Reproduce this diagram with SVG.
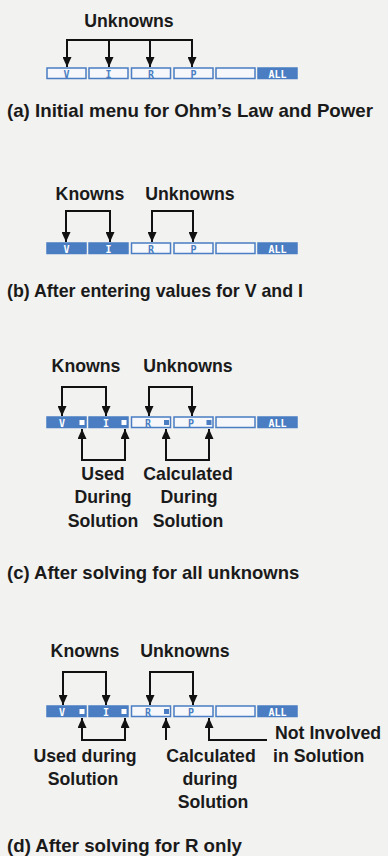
<svg xmlns="http://www.w3.org/2000/svg" width="388" height="856" viewBox="0 0 388 856">
<defs>
<marker id="ah" viewBox="0 0 10 9" markerUnits="userSpaceOnUse" markerWidth="11" markerHeight="9" refX="10" refY="4.5" orient="auto-start-reverse">
<path d="M0,0 L10,4.5 L0,9 z" fill="#111"/>
</marker>
<style>
.lbl{font-family:"Liberation Sans",Arial,sans-serif;font-weight:bold;font-size:17.7px;fill:#1a1a1a;text-anchor:middle}
.cap{font-family:"Liberation Sans",Arial,sans-serif;font-weight:bold;font-size:18.5px;fill:#1a1a1a}
.ln{fill:none;stroke:#111;stroke-width:2}
.arr{fill:none;stroke:#111;stroke-width:2;marker-end:url(#ah)}
.brk{fill:none;stroke:#111;stroke-width:2;marker-start:url(#ah);marker-end:url(#ah)}
.on{fill:#4a7dc2;stroke:#4a7dc2;stroke-width:1.5}
.off{fill:#f5f7fb;stroke:#4a7dc2;stroke-width:1.5}
.kt{font-family:"DejaVu Sans Mono",monospace;font-weight:bold;font-size:10px;text-anchor:middle}
.kw{fill:#ffffff}
.kb{fill:#4a7dc2}
.sqw{fill:#ffffff}
.sqb{fill:#4a7dc2}
</style>
</defs>
<rect width="388" height="856" fill="#f2f2f0"/>

<!-- Panel (a) -->
<g id="panel-a">
<g id="a-menu">
<rect class="off" x="47" y="68" width="39" height="10.5"/><text class="kt kb" x="66.5" y="77.5">V</text>
<rect class="off" x="89" y="68" width="39" height="10.5"/><text class="kt kb" x="108.5" y="77.5">I</text>
<rect class="off" x="131.5" y="68" width="39" height="10.5"/><text class="kt kb" x="151" y="77.5">R</text>
<rect class="off" x="174" y="68" width="39" height="10.5"/><text class="kt kb" x="193.5" y="77.5">P</text>
<rect class="off" x="216" y="68" width="39" height="10.5"/>
<rect class="on" x="258" y="68" width="39" height="10.5"/><text class="kt kw" x="277.5" y="77.5">ALL</text>
</g>
<g id="a-unknowns"><text class="lbl" x="129" y="27">Unknowns</text></g>
<g id="a-conn">
<path class="ln" d="M66,40 H193"/>
<path class="arr" d="M67,40 V67"/>
<path class="arr" d="M109,40 V67"/>
<path class="arr" d="M150,40 V67"/>
<path class="arr" d="M192,40 V67"/>
</g>
<text class="cap" x="7" y="117" textLength="366" lengthAdjust="spacingAndGlyphs">(a) Initial menu for Ohm’s Law and Power</text>
</g>

<!-- Panel (b) -->
<g id="panel-b">
<g id="b-menu">
<rect class="on" x="47" y="243" width="39" height="10.5"/><text class="kt kw" x="66.5" y="252.5">V</text>
<rect class="on" x="89" y="243" width="39" height="10.5"/><text class="kt kw" x="108.5" y="252.5">I</text>
<rect class="off" x="131.5" y="243" width="39" height="10.5"/><text class="kt kb" x="151" y="252.5">R</text>
<rect class="off" x="174" y="243" width="39" height="10.5"/><text class="kt kb" x="193.5" y="252.5">P</text>
<rect class="off" x="216" y="243" width="39" height="10.5"/>
<rect class="on" x="258" y="243" width="39" height="10.5"/><text class="kt kw" x="277.5" y="252.5">ALL</text>
</g>
<g id="b-knowns"><text class="lbl" x="90" y="200">Knowns</text></g>
<g id="b-unknowns"><text class="lbl" x="190" y="200">Unknowns</text></g>
<g id="b-conn">
<path class="brk" d="M66,242 V211 H110 V242"/>
<path class="brk" d="M152,242 V211 H193 V242"/>
</g>
<text class="cap" x="7" y="297" textLength="296" lengthAdjust="spacingAndGlyphs">(b) After entering values for V and I</text>
</g>

<!-- Panel (c) -->
<g id="panel-c">
<g id="c-menu">
<rect class="on" x="47" y="417" width="39" height="10.5"/><text class="kt kw" x="62" y="426.5">V</text><rect class="sqw" x="79.5" y="420" width="5" height="5"/>
<rect class="on" x="89" y="417" width="39" height="10.5"/><text class="kt kw" x="106" y="426.5">I</text><rect class="sqw" x="121.5" y="420" width="5" height="5"/>
<rect class="off" x="131.5" y="417" width="39" height="10.5"/><text class="kt kb" x="148" y="426.5">R</text><rect class="sqb" x="164" y="420" width="5" height="5"/>
<rect class="off" x="174" y="417" width="39" height="10.5"/><text class="kt kb" x="191" y="426.5">P</text><rect class="sqb" x="206.5" y="420" width="5" height="5"/>
<rect class="off" x="216" y="417" width="39" height="10.5"/>
<rect class="on" x="258" y="417" width="39" height="10.5"/><text class="kt kw" x="277.5" y="426.5">ALL</text>
</g>
<g id="c-knowns"><text class="lbl" x="86" y="372">Knowns</text></g>
<g id="c-unknowns"><text class="lbl" x="188" y="372">Unknowns</text></g>
<g id="c-used"><text class="lbl" x="103" y="480">Used</text><text class="lbl" x="103" y="503">During</text><text class="lbl" x="103" y="527">Solution</text></g>
<g id="c-calc"><text class="lbl" x="188" y="480">Calculated</text><text class="lbl" x="189" y="503">During</text><text class="lbl" x="188" y="527">Solution</text></g>
<g id="c-conn">
<path class="brk" d="M62,416 V387 H106 V416"/>
<path class="brk" d="M149,416 V387 H192 V416"/>
<path class="brk" d="M82,429 V460 H125 V429"/>
<path class="brk" d="M166,429 V460 H209 V429"/>
</g>
<text class="cap" x="7" y="579">(c) After solving for all unknowns</text>
</g>

<!-- Panel (d) -->
<g id="panel-d">
<g id="d-menu">
<rect class="on" x="47" y="706" width="39" height="10.5"/><text class="kt kw" x="62" y="715.5">V</text><rect class="sqw" x="79.5" y="709" width="5" height="5"/>
<rect class="on" x="89" y="706" width="39" height="10.5"/><text class="kt kw" x="106" y="715.5">I</text><rect class="sqw" x="121.5" y="709" width="5" height="5"/>
<rect class="off" x="131.5" y="706" width="39" height="10.5"/><text class="kt kb" x="148" y="715.5">R</text><rect class="sqb" x="164" y="709" width="5" height="5"/>
<rect class="off" x="174" y="706" width="39" height="10.5"/><text class="kt kb" x="191" y="715.5">P</text>
<rect class="off" x="216" y="706" width="39" height="10.5"/>
<rect class="on" x="258" y="706" width="39" height="10.5"/><text class="kt kw" x="277.5" y="715.5">ALL</text>
</g>
<g id="d-knowns"><text class="lbl" x="85" y="657">Knowns</text></g>
<g id="d-unknowns"><text class="lbl" x="185" y="657">Unknowns</text></g>
<g id="d-used"><text class="lbl" x="85" y="762">Used during</text><text class="lbl" x="83" y="785">Solution</text></g>
<g id="d-calc"><text class="lbl" x="211" y="762">Calculated</text><text class="lbl" x="210" y="785">during</text><text class="lbl" x="213" y="808">Solution</text></g>
<g id="d-notinv"><text class="lbl" x="275" y="739" style="text-anchor:start">Not Involved</text><text class="lbl" x="273" y="762" style="text-anchor:start">in Solution</text></g>
<g id="d-conn">
<path class="brk" d="M63,705 V672 H106 V705"/>
<path class="brk" d="M150,705 V672 H193 V705"/>
<path class="brk" d="M82,718 V740 H125 V718"/>
<path class="arr" d="M166,740 V718"/>
<path class="arr" d="M267,740 H209 V718"/>
</g>
<text class="cap" x="7" y="852" textLength="235" lengthAdjust="spacingAndGlyphs">(d) After solving for R only</text>
</g>
</svg>
